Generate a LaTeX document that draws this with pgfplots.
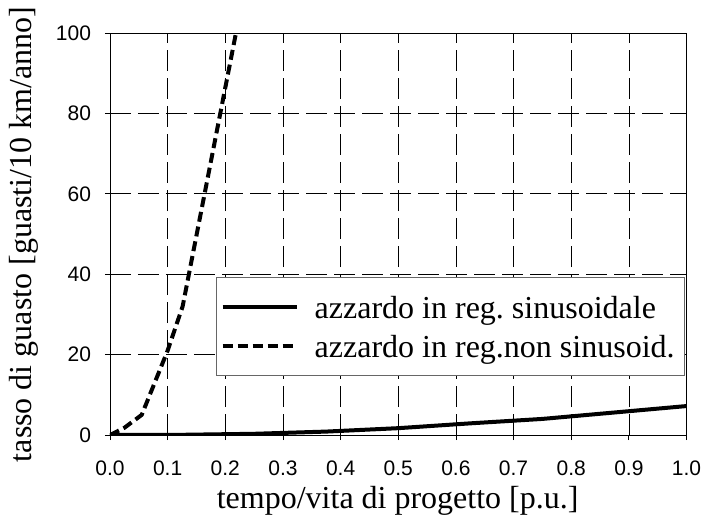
\documentclass[border=0pt]{standalone}
\usepackage{fontspec}
\setmainfont{Liberation Serif}
\newfontfamily\arialfont{Liberation Sans}
\usepackage{pgfplots}
\pgfplotsset{compat=1.18}
\frenchspacing
\begin{document}
\begin{tikzpicture}
\path[use as bounding box] (-110pt,-82pt) rectangle (594pt,435pt);
\begin{axis}[
  at={(0pt,0pt)}, anchor=south west,
  scale only axis, width=576.5pt, height=402pt,
  xmin=0, xmax=1, ymin=0, ymax=100,
  xtick={0,0.1,0.2,0.3,0.4,0.5,0.6,0.7,0.8,0.9,1},
  xticklabels={0.0,0.1,0.2,0.3,0.4,0.5,0.6,0.7,0.8,0.9,1.0},
  ytick={0,20,40,60,80,100},
  grid=major,
  major grid style={black, line width=0.7pt, dash pattern=on 21pt off 7pt},
  tick align=outside, major tick length=5pt,
  xtick pos=left, ytick pos=left,
  tick style={black, line width=0.8pt},
  axis line style={black, line width=0.8pt},
  /pgf/number format/assume math mode=true,
  ticklabel style={font=\arialfont\fontsize{21}{21}\selectfont},
  xticklabel style={anchor=north, yshift=-17pt},
  yticklabel style={anchor=east, xshift=-10.5pt},
  xlabel={tempo/vita di progetto [p.u.]},
  ylabel={tasso di guasto [guasti/10 km/anno]},
  label style={font=\fontsize{32}{38}\selectfont},
  xlabel style={at={(axis description cs:0.499,-0.1816)}, anchor=base},
  ylabel style={at={(axis description cs:-0.1353,0.4988)}, anchor=base},
  legend style={at={(0.9974,0.393)}, anchor=north east,
    draw=black!60, line width=0.7pt, fill=white,
    font=\fontsize{32}{38}\selectfont,
    inner xsep=4pt, inner ysep=10.3pt, row sep=0pt, column sep=10pt,
    nodes={inner xsep=6pt, inner ysep=0pt, text height=30.7pt, text depth=8pt}},
  legend cell align=left,
  legend image code/.code={\draw[#1] (0pt,0pt) -- (74pt,0pt);},
]
\addplot[black, line width=4pt] coordinates {
  (0,0) (0.125,0.05) (0.25,0.3) (0.375,0.85) (0.5,1.7) (0.625,2.9)
  (0.75,4.0) (0.875,5.6) (1,7.2)};
\addlegendentry{azzardo in reg. sinusoidale}
\addplot[black, line width=4pt, dash pattern=on 10pt off 5pt] coordinates {
  (0,0) (0.025,1.8) (0.055,5) (0.1,21) (0.126,32) (0.2185,100)};
\addlegendentry{azzardo in reg.non sinusoid.}
\end{axis}
\end{tikzpicture}
\end{document}
